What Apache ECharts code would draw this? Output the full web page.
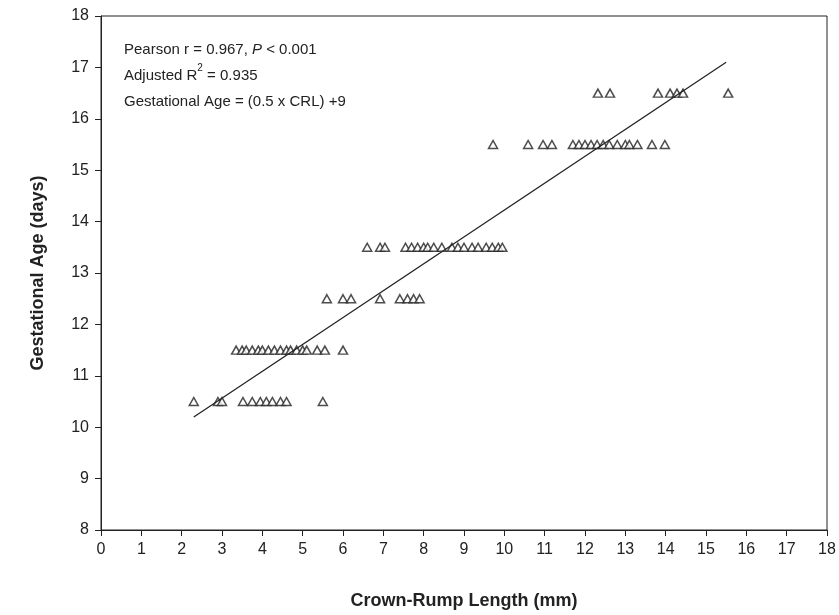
<!DOCTYPE html>
<html>
<head>
<meta charset="utf-8">
<script src="https://cdn.jsdelivr.net/npm/echarts@6/dist/echarts.min.js"></script>
<style>
  html, body { margin: 0; padding: 0; background: #fff; }
  #chart { width: 839px; height: 615px; }
</style>
</head>
<body>
<div id="chart"></div>
<script>
// CRL (mm) readings for each gestational age row
var crl105 = [2.3, 2.9, 3.0, 3.52, 3.75, 3.95, 4.1, 4.25, 4.45, 4.6, 5.5];
var crl115 = [3.35, 3.5, 3.6, 3.75, 3.9, 4.0, 4.15, 4.3, 4.45, 4.6, 4.7, 4.85, 5.0, 5.1, 5.36, 5.55, 6.0];
var crl125 = [5.6, 6.0, 6.2, 6.92, 7.41, 7.6, 7.75, 7.9];
var crl135 = [6.6, 6.92, 7.04, 7.55, 7.7, 7.85, 8.0, 8.1, 8.25, 8.45, 8.7, 8.85, 9.0, 9.2, 9.35, 9.55, 9.7, 9.85, 9.95];
var crl155 = [9.72, 10.59, 10.96, 11.18, 11.7, 11.85, 12.0, 12.15, 12.3, 12.45, 12.6, 12.8, 13.0, 13.1, 13.3, 13.66, 13.98];
var crl165 = [12.32, 12.62, 13.81, 14.11, 14.28, 14.43, 15.55];
var rows = [[10.5, crl105], [11.5, crl115], [12.5, crl125], [13.5, crl135], [15.5, crl155], [16.5, crl165]];
// fitted line end points
var fitLine = [[2.3, 10.2], [15.5, 17.1]];

var points = [];
rows.forEach(function (r) {
    r[1].forEach(function (x) { points.push([x, r[0]]); });
});

var tickFont = {
    fontFamily: 'Liberation Sans, Arial',
    fontSize: 16,
    color: '#222'
};
var lineStyle = { color: '#222', width: 1 };
var noteFont = 'Liberation Sans, Arial';

var option = {
    animation: false,
    backgroundColor: '#fff',
    title: {
        left: 119,
        top: 32,
        text: '{a|Pearson r = 0.967, }{i|P}{a| < 0.001}\n{a|Adjusted R}{s|2}{a| = 0.935}\n{a|Gestational Age = (0.5 x CRL) +9}',
        textStyle: {
            fontWeight: 'normal',
            rich: {
                a: { fontFamily: noteFont, fontSize: 15, fontWeight: 'normal', color: '#222', lineHeight: 26 },
                i: { fontFamily: noteFont, fontSize: 15, fontWeight: 'normal', fontStyle: 'italic', color: '#222', lineHeight: 26 },
                s: { fontFamily: noteFont, fontSize: 10, fontWeight: 'normal', color: '#222', verticalAlign: 'top', padding: [0, 0, 6, 0] }
            }
        }
    },
    grid: {
        left: 101,
        right: 12,
        top: 16,
        bottom: 85,
        show: true,
        borderColor: '#222',
        borderWidth: 1
    },
    xAxis: {
        type: 'value',
        min: 0,
        max: 18,
        interval: 1,
        name: 'Crown-Rump Length (mm)',
        nameLocation: 'center',
        nameGap: 62,
        nameTextStyle: { fontFamily: 'Liberation Sans, Arial', fontSize: 18, fontWeight: 'bold', color: '#222' },
        axisLine: { show: true, lineStyle: lineStyle },
        axisTick: { show: true, length: 6, lineStyle: lineStyle },
        axisLabel: Object.assign({ margin: 12 }, tickFont),
        splitLine: { show: false }
    },
    yAxis: {
        type: 'value',
        min: 8,
        max: 18,
        interval: 1,
        name: 'Gestational Age (days)',
        nameLocation: 'center',
        nameGap: 54,
        nameTextStyle: { fontFamily: 'Liberation Sans, Arial', fontSize: 18, fontWeight: 'bold', color: '#222' },
        axisLine: { show: true, lineStyle: lineStyle },
        axisTick: { show: true, length: 6, lineStyle: lineStyle },
        axisLabel: Object.assign({ margin: 12 }, tickFont),
        splitLine: { show: false }
    },
    series: [
        {
            type: 'scatter',
            data: points,
            symbol: 'triangle',
            symbolSize: [9, 8],
            itemStyle: { color: '#fff', borderColor: '#222', borderWidth: 1.5 }
        },
        {
            type: 'line',
            data: fitLine,
            showSymbol: false,
            lineStyle: { color: '#222', width: 1.3 }
        }
    ]
};

var chart = echarts.init(document.getElementById('chart'));
chart.setOption(option);
</script>
</body>
</html>
